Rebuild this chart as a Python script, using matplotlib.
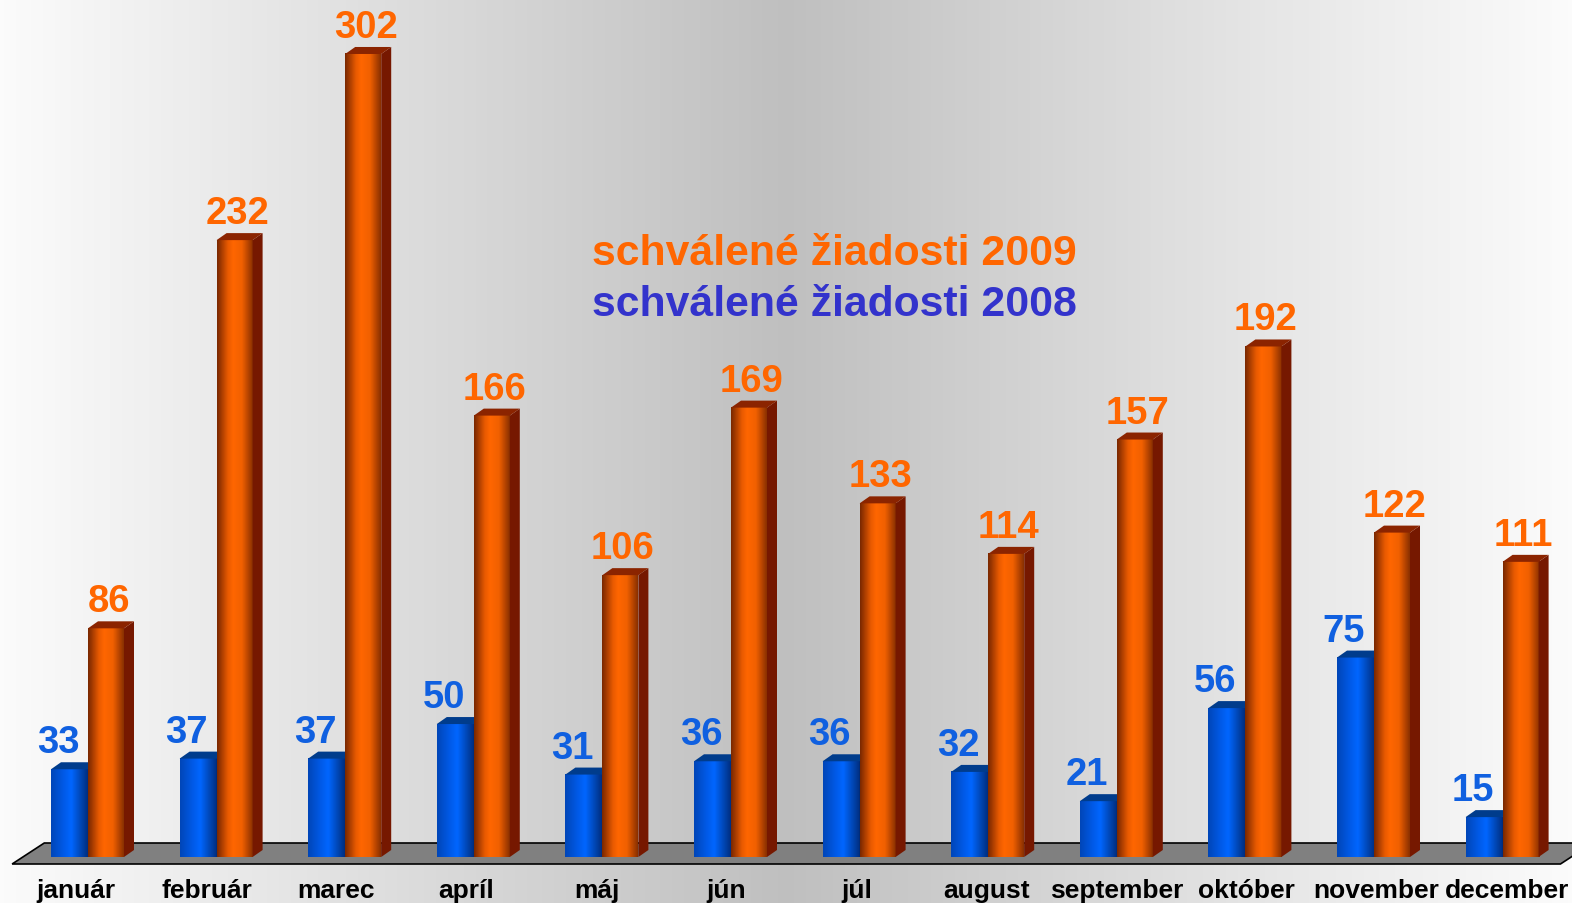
import numpy as np
import matplotlib
matplotlib.use('Agg')
import matplotlib.pyplot as plt
from matplotlib.patches import Polygon

months = ['január', 'február', 'marec', 'apríl', 'máj', 'jún', 'júl',
          'august', 'september', 'október', 'november', 'december']
vals_2008 = [33, 37, 37, 50, 31, 36, 36, 32, 21, 56, 75, 15]
vals_2009 = [86, 232, 302, 166, 106, 169, 133, 114, 157, 192, 122, 111]
legend_2009 = 'schválené žiadosti 2009'
legend_2008 = 'schválené žiadosti 2008'

plt.rcParams['font.family'] = ['Liberation Sans', 'DejaVu Sans']

W, H = 1572, 904
# pixel geometry of the plotting area
X0, XSTEP = 88.0, 128.6       # first group centre, group spacing (px)
Y0, YSCALE = 858.0, 2.659     # baseline (px from top), px per unit

fig = plt.figure(figsize=(W / 100, H / 100), dpi=100)

# background: horizontal grey gradient
bg = fig.add_axes([0, 0, 1, 1])
xs = np.linspace(0, 1, 400)
shade = np.interp(xs, [0, 0.5, 0.8, 1], [0.985, 0.75, 0.9, 0.985])
bg.imshow(np.stack([shade] * 3, axis=-1)[None, :, :],
          extent=(0, 1, 0, 1), aspect='auto')
bg.set_axis_off()

ax = fig.add_axes([0, 0, 1, 1])
ax.patch.set_alpha(0)
ax.set_axis_off()

dx = 10 / XSTEP
dy = 7 / YSCALE
wb = 37 / XSTEP
wo = 36 / XSTEP
n = len(months)

# floor
fl = Polygon([(-0.59, -dy), (-0.34, 2 * dy), (n - 1 + 0.70, 2 * dy),
              (n - 1 + 0.45, -dy)], closed=True, facecolor='#808080',
             edgecolor='black', lw=1.2, zorder=1)
ax.add_patch(fl)


def grad(stops, cols, npts=60):
    t = np.linspace(0, 1, npts)
    cols = np.array([matplotlib.colors.to_rgb(c) for c in cols])
    return np.stack([np.interp(t, stops, cols[:, k]) for k in range(3)], axis=-1)


blue_front = grad([0, 0.35, 0.55, 0.8, 1],
                  ['#0046b8', '#005ae8', '#0066ff', '#0048b8', '#002e80'])
orange_front = grad([0, 0.3, 0.45, 0.7, 1],
                    ['#7a2800', '#e85a00', '#ff6600', '#f06000', '#8a3000'])


def bar3d(x0, w, v, front, side, top, z):
    ax.imshow(front[None, :, :], extent=(x0, x0 + w, 0, v),
              aspect='auto', zorder=z, interpolation='bilinear')
    ax.add_patch(Polygon([(x0 + w, 0), (x0 + w + dx, dy), (x0 + w + dx, v + dy),
                          (x0 + w, v)], facecolor=side, edgecolor='none', zorder=z))
    ax.add_patch(Polygon([(x0, v), (x0 + dx, v + dy), (x0 + w + dx, v + dy),
                          (x0 + w, v)], facecolor=top, edgecolor='none', zorder=z))


for i in range(n):
    bar3d(i - wb, wb, vals_2008[i], blue_front, '#002a70', '#003c8c', 2 + i)
    bar3d(i, wo, vals_2009[i], orange_front, '#761800', '#8b2400', 2.5 + i)
    ax.text(i - wb / 2 - 0.09, vals_2008[i] + 17 / YSCALE, str(vals_2008[i]),
            ha='center', va='baseline', fontsize=27.5, fontweight='bold',
            color='#1060e0', zorder=30)
    ax.text(i + wo / 2 + 0.02, vals_2009[i] + 17 / YSCALE, str(vals_2009[i]),
            ha='center', va='baseline', fontsize=27.5, fontweight='bold',
            color='#ff6600', zorder=30)
    ax.text(-0.09 + i * 1.011, -33 / YSCALE, months[i], ha='center', va='center',
            fontsize=19, fontweight='bold', color='black', zorder=30)

ax.set_xlim(-X0 / XSTEP, (W - X0) / XSTEP)
ax.set_ylim(-(H - Y0) / YSCALE, Y0 / YSCALE)

fig.text(592 / W, 1 - 254 / H, legend_2009, ha='left', va='center',
         fontsize=30.8, fontweight='bold', color='#ff6600')
fig.text(592 / W, 1 - 305 / H, legend_2008, ha='left', va='center',
         fontsize=30.8, fontweight='bold', color='#3333cc')

fig.savefig('out.png', dpi=100)
